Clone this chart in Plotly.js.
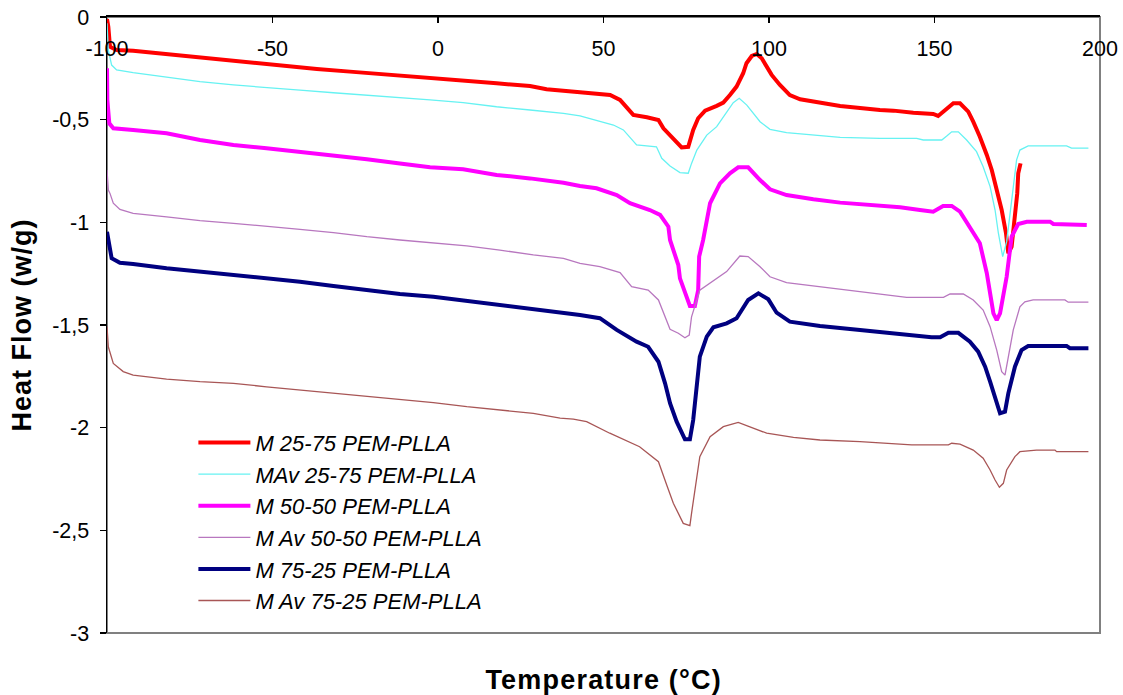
<!DOCTYPE html>
<html>
<head>
<meta charset="utf-8">
<script src="https://cdn.plot.ly/plotly-3.0.1.min.js"></script>
<style>
  html, body { margin: 0; padding: 0; background: #ffffff; }
  #chart { width: 1123px; height: 695px; }
  #chart .ytitle { letter-spacing: 1px; }
  #chart .annotation-text { letter-spacing: 1.2px; }
</style>
</head>
<body>
<div id="chart"></div>
<script>
// ---- data (Temperature in °C, Heat Flow in w/g) ----
const seriesNames = [
  "M 25-75 PEM-PLLA", "MAv 25-75 PEM-PLLA", "M 50-50 PEM-PLLA",
  "M Av 50-50 PEM-PLLA", "M 75-25 PEM-PLLA", "M Av 75-25 PEM-PLLA"
];

const tM2575 = [-100,-99.6,-99.1,-97.1,-92.1,-84,-77,-66.9,-56.8,-46.7,-36.6,-26.6,-16.5,-6.4,3.6,17.7,27.8,32.8,42.9,52,55,59,63.1,66.6,68.1,70.1,72.1,73.6,75.6,77.1,78.6,80.7,84.2,86.2,88.2,90.2,92.2,93.2,94.8,96.3,97.8,99.3,100.8,103.3,106.3,109.4,113.4,117.4,121.5,133.5,137.6,143.6,149.6,151.1,153.7,155.7,157.7,160.2,161.7,163.7,165.8,167.3,168.8,170.3,171.6,172.3,173.3,174.3,175,175.3,176];
const hM2575 = [-0.01,-0.047,-0.145,-0.161,-0.164,-0.177,-0.193,-0.209,-0.225,-0.237,-0.253,-0.266,-0.278,-0.294,-0.304,-0.323,-0.336,-0.352,-0.367,-0.38,-0.404,-0.477,-0.488,-0.502,-0.542,-0.575,-0.615,-0.635,-0.632,-0.55,-0.493,-0.456,-0.433,-0.417,-0.38,-0.339,-0.274,-0.225,-0.19,-0.18,-0.201,-0.242,-0.282,-0.331,-0.38,-0.401,-0.412,-0.424,-0.433,-0.453,-0.456,-0.466,-0.472,-0.482,-0.445,-0.42,-0.42,-0.461,-0.51,-0.583,-0.672,-0.745,-0.843,-0.94,-1.053,-1.151,-1.119,-0.989,-0.859,-0.761,-0.713];

const tMAv2575 = [-100,-99.6,-98.6,-97.1,-92.1,-82,-71.9,-61.8,-51.8,-41.7,-31.6,-21.5,-11.5,-2.4,7.6,17.7,27.8,37.9,42.9,46.9,53,56,60,66,67.6,70.1,73.1,75.6,76.6,78.2,81.2,84.2,87.2,89.2,91,93.3,97.3,100.3,105.3,113.4,121.5,133.5,144.6,146.6,152.2,153.7,155.2,157.2,159.7,162.7,164.7,166.8,168.3,169.3,170.6,171.8,173.3,174.8,175.8,178.3,189.9,191.4,196.5];
const hMAv2575 = [-0.031,-0.161,-0.234,-0.258,-0.271,-0.294,-0.315,-0.331,-0.342,-0.356,-0.369,-0.38,-0.391,-0.404,-0.417,-0.437,-0.453,-0.469,-0.482,-0.498,-0.526,-0.55,-0.623,-0.632,-0.688,-0.726,-0.758,-0.761,-0.713,-0.648,-0.575,-0.534,-0.461,-0.417,-0.396,-0.429,-0.51,-0.547,-0.563,-0.575,-0.586,-0.591,-0.591,-0.599,-0.599,-0.58,-0.559,-0.559,-0.599,-0.656,-0.729,-0.826,-0.94,-1.053,-1.167,-1.094,-0.891,-0.696,-0.648,-0.628,-0.628,-0.639,-0.639];

const tM5050 = [-100,-99.9,-99.3,-98.1,-92.1,-82,-71.9,-61.8,-51.8,-41.7,-31.6,-21.5,-11.5,-2.4,7.6,17.7,27.8,37.9,42.9,47.9,54,58,64,67.1,69.6,70.1,72.6,73.1,76.1,77.6,78.6,78.9,80.1,80.7,82.2,85.2,88.2,90.7,93.7,97.3,100.3,105.3,113.4,121.5,133.5,139.6,145.6,149.6,152.6,155.2,157.7,160.7,163.7,165.8,167.8,168.8,169.8,171.8,173.3,175.3,177.9,184.9,185.9,196];
const hM5050 = [-0.25,-0.404,-0.518,-0.542,-0.55,-0.566,-0.599,-0.623,-0.639,-0.656,-0.672,-0.693,-0.713,-0.732,-0.742,-0.769,-0.786,-0.807,-0.823,-0.834,-0.867,-0.907,-0.94,-0.964,-1.021,-1.086,-1.208,-1.273,-1.407,-1.407,-1.33,-1.167,-1.086,-1.037,-0.907,-0.81,-0.761,-0.732,-0.732,-0.794,-0.839,-0.867,-0.888,-0.904,-0.92,-0.927,-0.94,-0.948,-0.92,-0.92,-0.948,-1.021,-1.102,-1.248,-1.443,-1.476,-1.443,-1.265,-1.07,-1.008,-0.997,-0.997,-1.008,-1.013];

const tMAv5050 = [-100,-99.6,-99.1,-98.1,-96.1,-92.1,-82,-71.9,-61.8,-51.8,-41.7,-31.6,-21.5,-11.5,-1.4,8.7,18.7,28.8,37.9,42.9,48.9,55,58.5,63.5,66.6,68.6,70.1,72.6,74.6,75.9,76.6,79.1,83.2,87.2,91.2,93.7,97.3,100.3,105.3,115.4,127.5,131.5,136.6,141.6,152.7,154.7,158.7,161.7,164.7,166.8,168.8,170.3,171.3,172,173.8,175.8,177.3,179.8,189.4,190.4,196.5];
const hMAv5050 = [-0.745,-0.843,-0.859,-0.907,-0.937,-0.956,-0.973,-0.992,-1.005,-1.018,-1.034,-1.05,-1.07,-1.086,-1.099,-1.115,-1.135,-1.159,-1.175,-1.2,-1.216,-1.245,-1.313,-1.33,-1.378,-1.46,-1.521,-1.54,-1.562,-1.549,-1.46,-1.33,-1.284,-1.24,-1.164,-1.167,-1.216,-1.265,-1.294,-1.313,-1.338,-1.343,-1.354,-1.365,-1.365,-1.349,-1.349,-1.378,-1.427,-1.508,-1.622,-1.727,-1.744,-1.687,-1.524,-1.411,-1.387,-1.378,-1.378,-1.389,-1.389];

const tM7525 = [-100,-99.3,-98.6,-96.1,-92.1,-82,-71.9,-61.8,-51.8,-41.7,-31.6,-21.5,-11.5,-1.4,8.7,18.7,28.8,38.9,42.9,48.9,54,60,63.5,66.6,68.6,70.1,72.1,74.6,76.1,77.1,79.1,81.2,83.2,87.2,90.2,93.7,96.8,99.8,102.3,106.3,115.4,127.5,136.6,143.1,149.1,151.7,154.2,157.2,160.7,163.2,165.3,166.8,168.3,169.8,171.3,172.3,174.3,176.3,178.3,189.9,190.9,196.5];
const hM7525 = [-1.046,-1.102,-1.175,-1.197,-1.203,-1.224,-1.24,-1.257,-1.273,-1.289,-1.31,-1.33,-1.349,-1.362,-1.382,-1.403,-1.424,-1.443,-1.451,-1.467,-1.524,-1.581,-1.606,-1.679,-1.784,-1.881,-1.971,-2.057,-2.057,-1.963,-1.654,-1.557,-1.511,-1.492,-1.467,-1.378,-1.346,-1.375,-1.44,-1.484,-1.505,-1.524,-1.54,-1.549,-1.56,-1.56,-1.538,-1.538,-1.581,-1.63,-1.703,-1.776,-1.849,-1.93,-1.922,-1.833,-1.703,-1.622,-1.602,-1.602,-1.613,-1.613];

const tMAv7525 = [-100,-99.6,-98.1,-95.1,-92.1,-82,-71.9,-61.8,-51.8,-41.7,-31.6,-21.5,-11.5,-1.4,8.7,18.7,28.8,36.9,40.9,44.9,51.9,60.9,66.6,69.1,71.1,74.1,76.1,76.6,79.1,82.2,86.2,90.7,94.3,99.3,107.4,115.4,127.5,131.5,143.1,154.2,155.2,157.7,161.7,164.7,166.8,168.3,169.6,170.8,171.8,174.3,175.8,180.8,186.4,186.9,196.5];
const hMAv7525 = [-1.508,-1.606,-1.687,-1.727,-1.744,-1.764,-1.776,-1.784,-1.801,-1.817,-1.833,-1.849,-1.865,-1.878,-1.898,-1.914,-1.93,-1.954,-1.958,-1.971,-2.027,-2.093,-2.166,-2.279,-2.368,-2.466,-2.477,-2.417,-2.141,-2.044,-1.995,-1.974,-1.995,-2.027,-2.047,-2.06,-2.068,-2.073,-2.084,-2.084,-2.076,-2.08,-2.109,-2.149,-2.206,-2.255,-2.29,-2.271,-2.206,-2.141,-2.117,-2.109,-2.109,-2.117,-2.117];

const xTickVals = [-100, -50, 0, 50, 100, 150, 200];
const xTickText = ["-100", "-50", "0", "50", "100", "150", "200"];
const yTickVals = [0, -0.5, -1, -1.5, -2, -2.5, -3];
const yTickText = ["0", "-0,5", "-1", "-1,5", "-2", "-2,5", "-3"];

// ---- styling ----
const xs = [tM2575, tMAv2575, tM5050, tMAv5050, tM7525, tMAv7525];
const ys = [hM2575, hMAv2575, hM5050, hMAv5050, hM7525, hMAv7525];
const colors = ["#ff0000", "#66f2f2", "#ff00ff", "#b877bf", "#000080", "#a85656"];
const widths = [4, 1.3, 4, 1.3, 4, 1.3];

const traces = seriesNames.map((name, i) => ({
  type: "scatter",
  mode: "lines",
  name: name,
  x: xs[i],
  y: ys[i],
  line: { color: colors[i], width: widths[i] },
  hoverinfo: "skip"
}));

// invisible copy of the first series, only so that the label axis (x2) is drawn
traces.push({
  type: "scatter", mode: "lines", x: tM2575, y: hM2575, xaxis: "x2", yaxis: "y",
  opacity: 0, showlegend: false, hoverinfo: "skip", line: { width: 0 }
});

const FONT = "Arial, 'Liberation Sans', Helvetica, sans-serif";

const layout = {
  width: 1123,
  height: 695,
  margin: { l: 107, r: 23, t: 17, b: 62 },
  paper_bgcolor: "#ffffff",
  plot_bgcolor: "#ffffff",
  font: { family: FONT, color: "#000000" },
  showlegend: true,
  legend: {
    x: 0.087, y: 0.343, xanchor: "left", yanchor: "top",
    bgcolor: "rgba(0,0,0,0)",
    font: { family: FONT, size: 22, color: "#000000", style: "italic" },
    itemwidth: 52,
    tracegroupgap: 0
  },
  // axis line + inside ticks along the top (y = 0)
  xaxis: {
    range: [-100, 200],
    side: "top",
    anchor: "y",
    showgrid: false,
    zeroline: false,
    showline: true,
    linecolor: "#000000",
    linewidth: 2,
    ticks: "inside",
    ticklen: 6,
    tickwidth: 1.5,
    tickcolor: "#000000",
    tickmode: "array",
    tickvals: xTickVals,
    ticktext: xTickText,
    showticklabels: false,
    fixedrange: true
  },
  // tick labels placed just below the top axis line
  xaxis2: {
    range: [-100, 200],
    overlaying: "x",
    anchor: "free",
    position: 0.974,
    side: "bottom",
    showgrid: false,
    zeroline: false,
    showline: false,
    ticks: "",
    tickmode: "array",
    tickvals: xTickVals,
    ticktext: xTickText,
    tickfont: { family: FONT, size: 21.5, color: "#000000" },
    fixedrange: true
  },
  yaxis: {
    range: [-3, 0],
    showgrid: false,
    zeroline: false,
    showline: true,
    linecolor: "#000000",
    linewidth: 1.5,
    ticks: "outside",
    ticklen: 6,
    tickwidth: 1.5,
    tickcolor: "#000000",
    tickmode: "array",
    tickvals: yTickVals,
    ticktext: yTickText,
    ticklabelstandoff: 6,
    tickfont: { family: FONT, size: 21.5, color: "#000000" },
    title: { text: "Heat Flow (w/g)", font: { family: FONT, size: 27, weight: "bold", color: "#000000" }, standoff: 12 },
    fixedrange: true
  },
  shapes: [
    { type: "rect", xref: "paper", yref: "paper", x0: 0, x1: 1, y0: 0, y1: 1,
      line: { color: "#808080", width: 2 }, layer: "below" }
  ],
  annotations: [
    { text: "<b>Temperature (°C)</b>", xref: "paper", yref: "paper", x: 0.5, y: 0,
      yshift: -47, xanchor: "center", yanchor: "middle", showarrow: false,
      font: { family: FONT, size: 27, color: "#000000" } }
  ]
};

Plotly.newPlot("chart", traces, layout, { displayModeBar: false, staticPlot: true });
</script>
</body>
</html>
